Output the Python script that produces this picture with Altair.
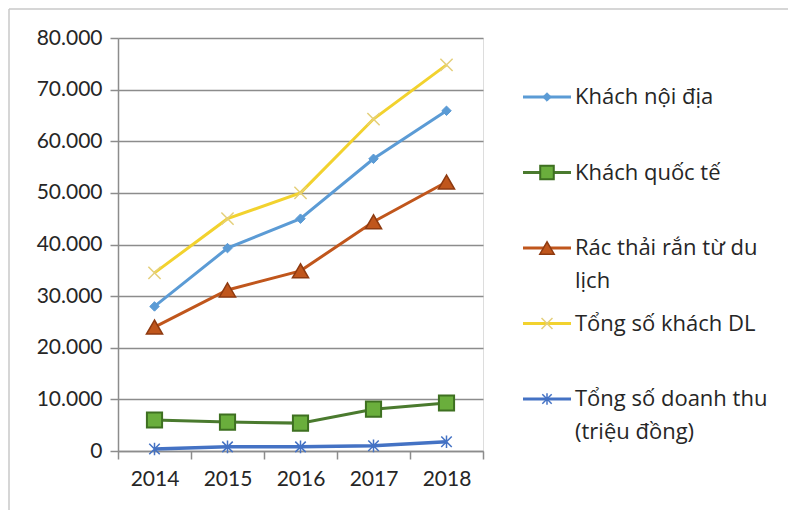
import altair as alt
import pandas as pd

years = ["2014", "2015", "2016", "2017", "2018"]
series = ["Khách nội địa", "Khách quốc tế", "Rác thải rắn từ du lịch",
          "Tổng số khách DL", "Tổng số doanh thu (triệu đồng)"]
legend_labels = ["Khách nội địa", "Khách quốc tế", "Rác thải rắn từ du\nlịch",
                 "Tổng số khách DL", "Tổng số doanh thu\n(triệu đồng)"]
khach_noi_dia = [28000, 39300, 45000, 56600, 65900]
khach_quoc_te = [6000, 5600, 5400, 8100, 9300]
rac_thai = [24000, 31200, 34900, 44400, 52100]
tong_khach = [34500, 45000, 50000, 64300, 74800]
doanh_thu = [400, 800, 800, 1000, 1800]
y_ticks = [0, 10000, 20000, 30000, 40000, 50000, 60000, 70000, 80000]

values = [khach_noi_dia, khach_quoc_te, rac_thai, tong_khach, doanh_thu]
rows = []
for s, vals in zip(series, values):
    for yr, v in zip(years, vals):
        rows.append({"year": yr, "series": s, "value": v})
df = pd.DataFrame(rows)
leg = pd.DataFrame({"series": series, "label": legend_labels})

FONT = "Lato"
LFONT = "Open Sans"
XPATH = "M-1,-1L1,1M1,-1L-1,1"
STAR = "M-1,-1L1,1M1,-1L-1,1M0,-1.2L0,1.2"

styles = {
    "Khách nội địa": dict(line="#5B9BD5", shape="diamond", fill="#5B9BD5", stroke="#5B9BD5", size=90, filled=True, sw=1),
    "Khách quốc tế": dict(line="#4A7A2E", shape="square", fill="#6AAE3C", stroke="#3E7021", size=230, filled=True, sw=2),
    "Rác thải rắn từ du lịch": dict(line="#C0561C", shape="triangle-up", fill="#C0561C", stroke="#8E3A10", size=260, filled=True, sw=1.5),
    "Tổng số khách DL": dict(line="#F2D22E", shape=XPATH, fill="none", stroke="#E4CF7A", size=150, filled=False, sw=1.5),
    "Tổng số doanh thu (triệu đồng)": dict(line="#4472C4", shape=STAR, fill="none", stroke="#4472C4", size=110, filled=False, sw=1.5),
}

xenc = alt.X("year:N", sort=years, title=None,
             scale=alt.Scale(paddingInner=0, paddingOuter=0),
             axis=alt.Axis(labelAngle=0, labelFont=FONT, labelFontSize=21, labelColor="#262626",
                           domainColor="#8c8c8c", tickColor="#8c8c8c", tickSize=8, tickBand="extent",
                           labelPadding=9, domainWidth=1.5, tickWidth=1.5))
yenc = alt.Y("value:Q", title=None,
             scale=alt.Scale(domain=[0, 80000], nice=False),
             axis=alt.Axis(values=y_ticks, labelFont=FONT, labelFontSize=21, labelColor="#262626",
                           labelExpr="replace(format(datum.value, ','), ',', '.')",
                           domainColor="#8c8c8c", tickColor="#8c8c8c", tickSize=8,
                           gridColor="#8c8c8c", gridWidth=1.5, domainWidth=1.5, tickWidth=1.5,
                           labelPadding=8))

layers = []
for s in series:
    st = styles[s]
    sub = df[df.series == s]
    base = alt.Chart(sub)
    lw = 3.5 if s.startswith("Tổng số doanh") else 3
    layers.append(base.mark_line(color=st["line"], strokeWidth=lw).encode(x=xenc, y=yenc))
    layers.append(base.mark_point(shape=st["shape"], size=st["size"], filled=st["filled"],
                                  fill=st["fill"], stroke=st["stroke"], strokeWidth=st["sw"],
                                  opacity=1).encode(x=xenc, y=yenc))

main = alt.layer(*layers)

# legend
ly = alt.Y("series:N", sort=series, axis=None,
           scale=alt.Scale(type="point", range=[59, 361], padding=0))
leg_layers = []
for s in series:
    st = styles[s]
    b = alt.Chart(leg[leg.series == s])
    leg_layers.append(b.mark_rule(color=st["line"], strokeWidth=3).encode(
        x=alt.value(405), x2=alt.value(453), y=ly))
    leg_layers.append(b.mark_point(shape=st["shape"], size=st["size"] * 0.8, filled=st["filled"],
                                   fill=st["fill"], stroke=st["stroke"], strokeWidth=st["sw"],
                                   opacity=1).encode(x=alt.value(429), y=ly))
    leg_layers.append(b.mark_text(align="left", baseline="middle", font=LFONT, fontSize=22,
                                  color="#262626", lineBreak="\n", lineHeight=33).encode(
        x=alt.value(457), y=ly, text="label:N"))
legend = alt.layer(*leg_layers)

frame_top = alt.Chart(leg.head(1)).mark_rule(color="#c8c8c8", strokeWidth=1.5).encode(
    x=alt.value(-109), x2=alt.value(670), y=alt.value(-29))
frame_left = alt.Chart(leg.head(1)).mark_rule(color="#c8c8c8", strokeWidth=1.5).encode(
    x=alt.value(-109), y=alt.value(-29), y2=alt.value(472))

chart = alt.layer(main, legend, frame_top, frame_left).resolve_scale(y="independent").properties(
    width=365, height=413,
    padding={"left": 8, "top": 8, "right": 0, "bottom": 0},
).configure_view(stroke=None).configure(background="white")

chart.save("out.html", embed_options={"renderer": "svg", "actions": False})
